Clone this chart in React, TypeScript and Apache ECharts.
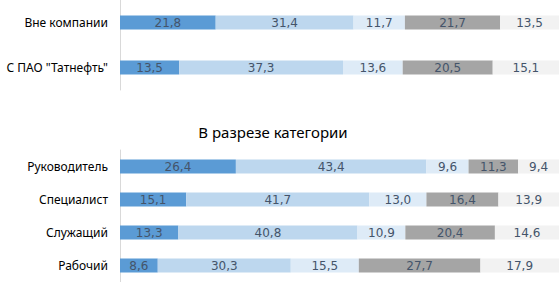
import React, { useEffect, useRef } from "react";
import * as echarts from "echarts";

const topCategories = ["Вне компании", "С ПАО \"Татнефть\""];
const topS1 = [21.8, 13.5];
const topS2 = [31.4, 37.3];
const topS3 = [11.7, 13.6];
const topS4 = [21.7, 20.5];
const topS5 = [13.5, 15.1];

const botTitle = "В разрезе категории";
const botCategories = ["Руководитель", "Специалист", "Служащий", "Рабочий"];
const botS1 = [26.4, 15.1, 13.3, 8.6];
const botS2 = [43.4, 41.7, 40.8, 30.3];
const botS3 = [9.6, 13.0, 10.9, 15.5];
const botS4 = [11.3, 16.4, 20.4, 27.7];
const botS5 = [9.4, 13.9, 14.6, 17.9];

const colors = ["#5b9bd5", "#bdd7ee", "#deebf7", "#a5a5a5", "#f2f2f2"];

export default function App() {
  const ref = useRef<HTMLDivElement>(null);
  useEffect(() => {
    if (!ref.current) return;
    const chart = echarts.init(ref.current, null, { renderer: "svg" });
    const fmt = (p: any) => Number(p.value).toFixed(1).replace(".", ",");
    const mk = (data: number[], i: number, g: number) => ({
      type: "bar",
      stack: "s" + g,
      xAxisIndex: g,
      yAxisIndex: g,
      barWidth: 14,
      data,
      itemStyle: { color: colors[i] },
      label: {
        show: true,
        position: "inside",
        formatter: fmt,
        color: "#44546a",
        fontFamily: "DejaVu Sans",
        fontSize: 12,
      },
    });
    const topSeries = [topS1, topS2, topS3, topS4, topS5].map((d, i) => mk(d, i, 0));
    const botSeries = [botS1, botS2, botS3, botS4, botS5].map((d, i) => mk(d, i, 1));
    const yAx = (cats: string[], gi: number) => ({
      type: "category",
      gridIndex: gi,
      data: cats,
      inverse: true,
      axisLine: { show: true, lineStyle: { color: "#d9d9d9" } },
      axisTick: { show: false },
      axisLabel: {
        color: "#000000",
        fontFamily: "Noto Sans",
        fontSize: 12,
        margin: 12,
      },
    });
    const xAx = (gi: number) => ({
      type: "value",
      gridIndex: gi,
      min: 0,
      max: 100,
      show: false,
    });
    chart.setOption({
      animation: false,
      title: {
        text: botTitle,
        left: 268,
        top: 119,
        textAlign: "center",
        textStyle: {
          fontFamily: "Noto Sans",
          fontSize: 15,
          fontWeight: "normal",
          color: "#000000",
        },
      },
      grid: [
        { left: 120, top: 0, width: 446, height: 90 },
        { left: 120, top: 150, width: 446, height: 140 },
      ],
      xAxis: [xAx(0), xAx(1)],
      yAxis: [yAx(topCategories, 0), yAx(botCategories, 1)],
      series: [...topSeries, ...botSeries],
    });
    return () => chart.dispose();
  }, []);
  return (
    <div
      ref={ref}
      style={{ position: "fixed", left: 0, top: 0, width: 559, height: 282, background: "#ffffff" }}
    />
  );
}
